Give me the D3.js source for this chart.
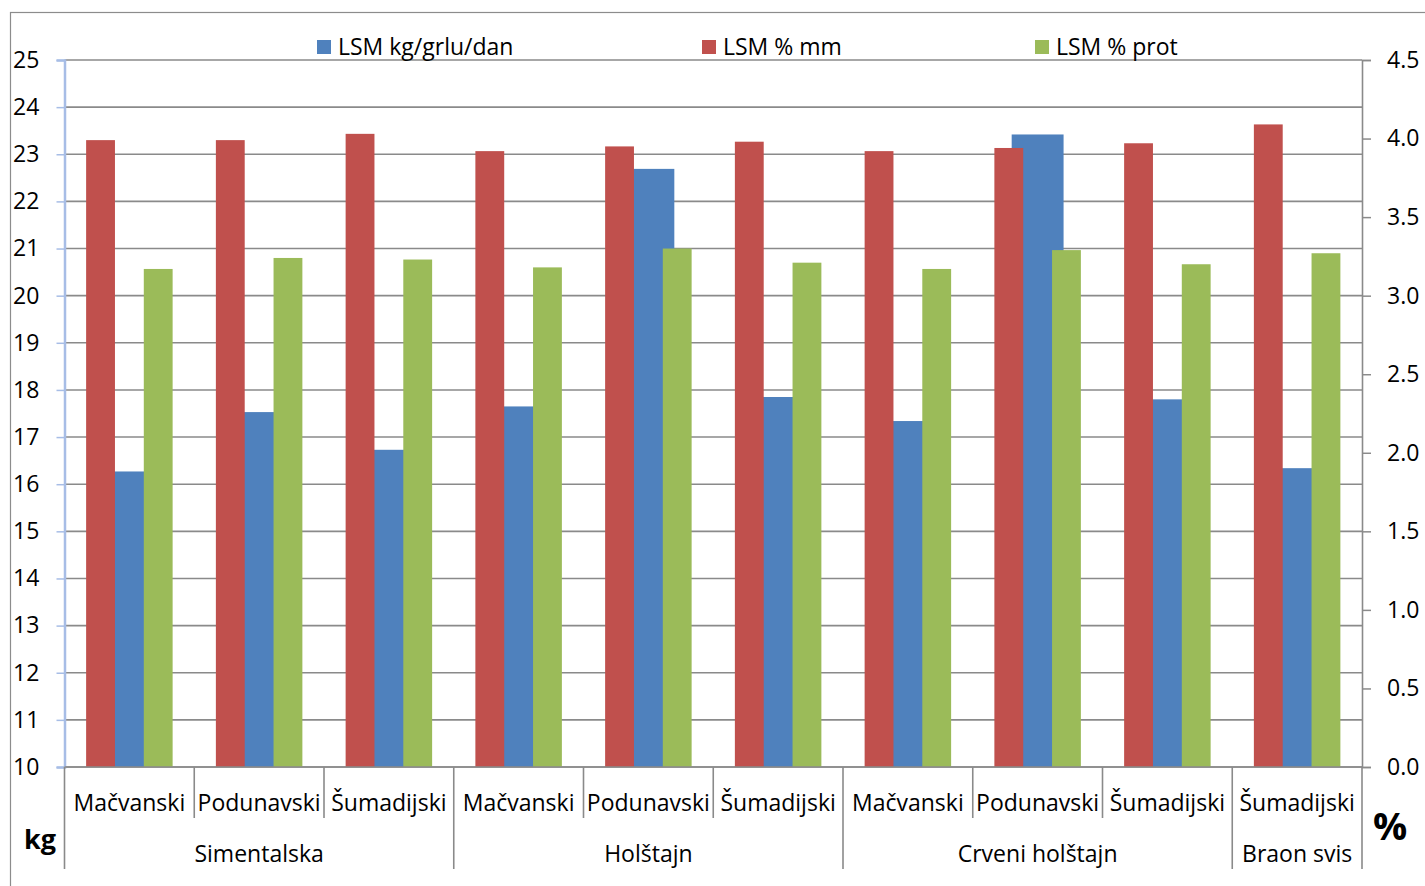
<!DOCTYPE html>
<html>
<head>
<meta charset="utf-8">
<script src="https://cdn.jsdelivr.net/npm/d3@7"></script>
<style>
  body { margin: 0; background: #fff; }
  text { font-family: "Open Sans", sans-serif; fill: #000; }
</style>
</head>
<body>
<div id="chart"></div>
<script>
// regions (first label row) and breeds (second label row)
const regions = ["Mačvanski", "Podunavski", "Šumadijski", "Mačvanski", "Podunavski", "Šumadijski",
                 "Mačvanski", "Podunavski", "Šumadijski", "Šumadijski"];
const breeds = ["Simentalska", "Simentalska", "Simentalska", "Holštajn", "Holštajn", "Holštajn",
                "Crveni holštajn", "Crveni holštajn", "Crveni holštajn", "Braon svis"];
const breedNames = ["Simentalska", "Holštajn", "Crveni holštajn", "Braon svis"];

// series
const kgPerDay = [16.27, 17.53, 16.73, 17.65, 22.69, 17.85, 17.34, 23.42, 17.80, 16.34];
const fatPct   = [3.99, 3.99, 4.03, 3.92, 3.95, 3.98, 3.92, 3.94, 3.97, 4.09];
const protPct  = [3.17, 3.24, 3.23, 3.18, 3.30, 3.21, 3.17, 3.29, 3.20, 3.27];

const seriesNames = ["LSM kg/grlu/dan", "LSM % mm", "LSM % prot"];
const colors = ["#4f81bd", "#c0504d", "#9bbb59"];

const leftTicks = d3.range(10, 26, 1);
const rightTicks = d3.range(0, 4.51, 0.5);

const width = 1425, height = 886;
const plot = { left: 64.5, right: 1362, top: 60, bottom: 767 };
const fs = 23;

const svg = d3.select("#chart").append("svg")
  .attr("width", width)
  .attr("height", height);

// chart frame
svg.append("rect")
  .attr("x", 10.5).attr("y", 12.5)
  .attr("width", width).attr("height", height)
  .attr("fill", "none")
  .attr("stroke", "#8c8c8c")
  .attr("stroke-width", 1.2);

const idx = d3.range(regions.length);
const x = d3.scaleBand().domain(idx).range([plot.left, plot.right]).paddingInner(0).paddingOuter(0);
const bw = x.bandwidth();

const yKg = d3.scaleLinear().domain([10, 25]).range([plot.bottom, plot.top]);
const yPct = d3.scaleLinear().domain([0, 4.5]).range([plot.bottom, plot.top]);

// secondary cluster (red, empty slot, green)
const slot = bw / 4.5;
const xSec = d3.scaleBand().domain(["mm", "gap", "prot"])
  .range([bw / 2 - 1.5 * slot, bw / 2 + 1.5 * slot]);
const primW = bw / 2.5;

// gridlines
svg.append("g")
  .selectAll("line")
  .data(leftTicks)
  .join("line")
  .attr("x1", plot.left).attr("x2", plot.right)
  .attr("y1", d => yKg(d)).attr("y2", d => yKg(d))
  .attr("stroke", "#8a8a8a")
  .attr("stroke-width", 1.6);

// left axis
const leftAxis = svg.append("g")
  .attr("transform", `translate(${plot.left},0)`)
  .call(d3.axisLeft(yKg).tickValues(leftTicks).tickSize(8).tickFormat(d3.format("d")));
leftAxis.select(".domain").attr("stroke", "#a7bde6").attr("stroke-width", 2.5);
leftAxis.selectAll(".tick line").attr("stroke", "#a7bde6").attr("stroke-width", 1.5);
leftAxis.selectAll(".tick text")
  .attr("x", 13 - plot.left)
  .attr("text-anchor", "start")
  .attr("font-size", fs)
  .attr("font-family", "Open Sans");

// right axis
const rightAxis = svg.append("g")
  .attr("transform", `translate(${plot.right},0)`)
  .call(d3.axisRight(yPct).tickValues(rightTicks).tickSize(9).tickFormat(d3.format(".1f")));
rightAxis.select(".domain").attr("stroke", "#8a8a8a").attr("stroke-width", 1.6);
rightAxis.selectAll(".tick line").attr("stroke", "#8a8a8a").attr("stroke-width", 1.5);
rightAxis.selectAll(".tick text")
  .attr("x", 25)
  .attr("font-size", fs)
  .attr("font-family", "Open Sans");

// primary bars (behind)
svg.append("g")
  .selectAll("rect")
  .data(idx)
  .join("rect")
  .attr("x", i => x(i) + bw / 2 - primW / 2)
  .attr("width", primW)
  .attr("y", i => yKg(kgPerDay[i]))
  .attr("height", i => plot.bottom - yKg(kgPerDay[i]))
  .attr("fill", colors[0]);

// secondary bars
const sec = [{ key: "mm", vals: fatPct, color: colors[1] }, { key: "prot", vals: protPct, color: colors[2] }];
sec.forEach(s => {
  svg.append("g")
    .selectAll("rect")
    .data(idx)
    .join("rect")
    .attr("x", i => x(i) + xSec(s.key))
    .attr("width", xSec.bandwidth())
    .attr("y", i => yPct(s.vals[i]))
    .attr("height", i => plot.bottom - yPct(s.vals[i]))
    .attr("fill", s.color);
});

// x axis line
svg.append("line")
  .attr("x1", plot.left).attr("x2", plot.right)
  .attr("y1", plot.bottom).attr("y2", plot.bottom)
  .attr("stroke", "#8a8a8a").attr("stroke-width", 1.6);

// category dividers (short) and group dividers (long)
const groupStarts = idx.filter(i => i === 0 || breeds[i] !== breeds[i - 1]);
const divs = svg.append("g").attr("stroke", "#8a8a8a").attr("stroke-width", 1.6);
divs.selectAll("line.cat")
  .data(idx.filter(i => !groupStarts.includes(i)))
  .join("line")
  .attr("class", "cat")
  .attr("x1", i => x(i)).attr("x2", i => x(i))
  .attr("y1", plot.bottom).attr("y2", plot.bottom + 51);
divs.selectAll("line.grp")
  .data(groupStarts.map(i => x(i)).concat([plot.right]))
  .join("line")
  .attr("class", "grp")
  .attr("x1", d => d).attr("x2", d => d)
  .attr("y1", plot.bottom).attr("y2", plot.bottom + 102);

// region labels
svg.append("g")
  .selectAll("text")
  .data(idx)
  .join("text")
  .attr("x", i => x(i) + bw / 2)
  .attr("y", 811)
  .attr("text-anchor", "middle")
  .attr("font-size", fs)
  .text(i => regions[i]);

// breed labels
svg.append("g")
  .selectAll("text")
  .data(breedNames)
  .join("text")
  .attr("x", b => {
    const members = idx.filter(i => breeds[i] === b);
    return (x(members[0]) + x(members[members.length - 1]) + bw) / 2;
  })
  .attr("y", 862)
  .attr("text-anchor", "middle")
  .attr("font-size", fs)
  .text(b => b);

// axis unit labels
svg.append("text")
  .attr("x", 24).attr("y", 849)
  .attr("font-size", 27).attr("font-weight", "bold")
  .attr("font-family", "Liberation Sans Narrow, Open Sans")
  .text("kg");
svg.append("text")
  .attr("x", 1373).attr("y", 840)
  .attr("font-size", 38).attr("font-weight", "bold")
  .attr("font-family", "Liberation Sans Narrow, Open Sans")
  .text("%");

// legend
const legendX = [317, 702, 1035];
const legend = svg.append("g").selectAll("g")
  .data(seriesNames)
  .join("g")
  .attr("transform", (d, i) => `translate(${legendX[i]},40)`);
legend.append("rect")
  .attr("width", 14).attr("height", 14)
  .attr("fill", (d, i) => colors[i]);
legend.append("text")
  .attr("x", 21).attr("y", 15)
  .attr("font-size", fs)
  .text(d => d);
</script>
</body>
</html>
